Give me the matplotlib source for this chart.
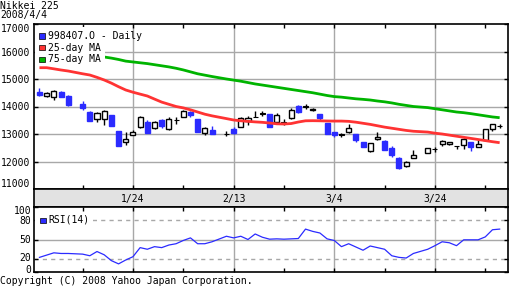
import numpy as np
import matplotlib
matplotlib.use("Agg")
import matplotlib.pyplot as plt
from matplotlib.patches import Rectangle
import matplotlib.transforms as mtransforms

# ---------------- data ----------------
dates = ["2008-01-07","2008-01-08","2008-01-09","2008-01-10","2008-01-11",
         "2008-01-15","2008-01-16","2008-01-17","2008-01-18",
         "2008-01-21","2008-01-22","2008-01-23","2008-01-24","2008-01-25",
         "2008-01-28","2008-01-29","2008-01-30","2008-01-31","2008-02-01",
         "2008-02-04","2008-02-05","2008-02-06","2008-02-07","2008-02-08",
         "2008-02-12","2008-02-13","2008-02-14","2008-02-15",
         "2008-02-18","2008-02-19","2008-02-20","2008-02-21","2008-02-22",
         "2008-02-25","2008-02-26","2008-02-27","2008-02-28","2008-02-29",
         "2008-03-03","2008-03-04","2008-03-05","2008-03-06","2008-03-07",
         "2008-03-10","2008-03-11","2008-03-12","2008-03-13","2008-03-14",
         "2008-03-17","2008-03-18","2008-03-19","2008-03-21",
         "2008-03-24","2008-03-25","2008-03-26","2008-03-27","2008-03-28",
         "2008-03-31","2008-04-01","2008-04-02","2008-04-03","2008-04-04"]

open_ = [14536,14369,14345,14536,14393,
         14107,13786,13560,13548,
         13679,13107,12726,12953,13238,
         13452,13226,13500,13190,13500,
         13631,13798,13536,13048,13143,
         13010,13167,13238,13476,
         13619,13738,13714,13429,13417,
         13595,14012,14000,13870,13726,
         13393,13084,12977,13060,13012,
         12727,12381,12810,12762,12500,
         12132,11822,12132,12310,
         12453,12631,12631,12572,12596,
         12715,12512,12786,13167,13286]
high = [14667,14524,14595,14571,14429,
        14214,13821,13786,13881,
        13690,13107,13060,13143,13643,
        13500,13488,13536,13607,13607,
        13881,13833,13536,13238,13286,
        13119,13238,13619,13655,
        13833,13833,13714,13762,13536,
        13952,14048,14083,13940,13726,
        13393,13084,13048,13369,13012,
        12727,12679,13072,12786,12560,
        12167,12025,12405,12489,
        12536,12786,12703,12572,12846,
        12715,12786,13167,13381,13369]
low = [14381,14333,14238,14333,14036,
       13869,13464,13440,13333,
       13298,12548,12583,12953,13202,
       13048,13190,13226,13131,13381,
       13631,13619,13083,12953,12988,
       12917,13000,13238,13333,
       13619,13643,13262,13357,13345,
       13560,13762,13905,13845,13500,
       12988,12881,12905,13036,12727,
       12524,12334,12786,12405,12179,
       11715,11787,12132,12310,
       12357,12560,12584,12441,12465,
       12393,12512,12786,13107,13202]
close = [14429,14488,14571,14345,14071,
         13940,13476,13750,13845,
         13298,12548,12821,13083,13607,
         13048,13452,13298,13560,13500,
         13845,13679,13083,13202,12988,
         13010,13024,13595,13595,
         13619,13738,13262,13679,13417,
         13881,13798,14000,13895,13583,
         12988,12977,12977,13226,12774,
         12524,12655,12881,12429,12239,
         11775,11965,12251,12489,
         12453,12750,12703,12572,12810,
         12512,12643,13167,13381,13286]

ma25 = [15411,15411,15370,15327,15290,
        15190,15145,15060,14964,
        14850,14720,14600,14520,14450,
        14382,14270,14160,14080,14000,
        13950,13880,13800,13720,13660,
        13560,13509,13480,13460,
        13440,13424,13400,13370,13364,
        13380,13436,13480,13484,13480,
        13473,13470,13470,13460,13430,
        13390,13350,13300,13250,13210,
        13170,13130,13100,13070,
        13030,13000,12960,12920,12880,
        12840,12800,12760,12720,12684]
ma75 = [16000,15990,15970,15950,15930,
        15880,15860,15830,15800,
        15760,15710,15650,15620,15590,
        15560,15520,15480,15440,15390,
        15330,15260,15190,15140,15090,
        15000,14960,14920,14870,
        14820,14780,14740,14700,14660,
        14620,14580,14540,14500,14450,
        14400,14360,14340,14310,14280,
        14260,14236,14200,14170,14130,
        14080,14040,14000,13960,
        13920,13880,13840,13800,13775,
        13740,13700,13660,13620,13593]
rsi = [22.5,26,29.5,28.5,28.5,
       27.5,25,31.5,26.5,
       17.5,12.5,18.5,23.5,37.5,
       35,39,37.5,41.5,43.5,
       48.5,52.5,43.5,43.5,46.5,
       55,52.5,55,50,
       58.5,53.5,50.5,51,50.5,
       51,51.5,66,62.5,60,
       51,48.5,39,43.5,38.5,
       33.5,40,37.5,35,25,
       22.5,21.5,28.5,35,
       40.5,46.5,45,40.5,49.5,
       49.5,49.5,54,65,66]

major_labels = ["1/24", "2/13", "3/4", "3/24"]
major_dates = ["2008-01-24", "2008-02-13", "2008-03-04", "2008-03-24"]
minor_dates = ["2008-01-15", "2008-02-04", "2008-02-22", "2008-03-13", "2008-04-02"]
price_ticks = [11000, 12000, 13000, 14000, 15000, 16000, 17000]
rsi_ticks = [0, 20, 50, 80, 100]

# ---------------- style ----------------
FONT = "DejaVu Sans Mono"
FS = 7
BLUE = "#2b2bff"
RED = "#ff3333"
GREEN = "#00b400"
GRID = "#a8a8a8"
plt.rcParams["font.family"] = FONT

start = "2008-01-04"
def pos(ds):
    return np.busday_count(start, ds)

x = np.array([pos(d) for d in dates], dtype=float)
o = np.array(open_, float); h = np.array(high, float)
l = np.array(low, float); c = np.array(close, float)
xmaj = [pos(d) for d in major_dates]
xmin = [pos(d) for d in minor_dates]

W, H = 512, 288
fig = plt.figure(figsize=(W / 100, H / 100), dpi=100)
L = 34 / W
R = 507.7 / W
def fy(py):
    return 1 - py / H

ax = fig.add_axes([L, fy(189), R - L, fy(24) - fy(189)])
axb = fig.add_axes([L, fy(207), R - L, fy(189) - fy(207)])
axr = fig.add_axes([L, fy(272), R - L, fy(207) - fy(272)])

XL = (0.24, 66.12)
for a in (ax, axb, axr):
    a.set_xlim(*XL)
    for s in a.spines.values():
        s.set_linewidth(1.2)
        s.set_color("black")

# ---------- main price panel ----------
ax.set_ylim(11000, 17000)
for yv in price_ticks[1:-1]:
    ax.axhline(yv, color=GRID, lw=1, zorder=0)
for xv in xmaj:
    ax.axvline(xv, color=GRID, lw=1, zorder=0)

bw = 0.7
up = c > o
dn = c < o
eq = c == o
ax.vlines(x[up | eq], l[up | eq], h[up | eq], color="black", lw=1, zorder=2)
ax.vlines(x[dn], l[dn], h[dn], color=BLUE, lw=1, zorder=2)
ax.bar(x[up], c[up] - o[up], bottom=o[up], width=bw, facecolor="white",
       edgecolor="black", lw=1, zorder=3)
ax.bar(x[dn], o[dn] - c[dn], bottom=c[dn], width=bw, facecolor=BLUE,
       edgecolor=BLUE, lw=1, zorder=3)
ax.bar(x[eq], 15, bottom=o[eq] - 7, width=bw, facecolor="black",
       edgecolor="black", lw=0.8, zorder=3)

ax.plot(x, ma25, color=RED, lw=2, zorder=4, solid_capstyle="butt")
ax.plot(x, ma75, color=GREEN, lw=2, zorder=4, solid_capstyle="butt")

ax.set_yticks(price_ticks)
ax.set_yticklabels([str(t) for t in price_ticks])
for lab, t in zip(ax.get_yticklabels(), price_ticks):
    if t == 17000:
        lab.set_va("top")
    elif t == 11000:
        lab.set_va("bottom")
ax.set_xticks(xmaj)
ax.set_xticks(xmin, minor=True)
ax.tick_params(axis="both", which="both", direction="in", length=3, width=1,
               top=True, right=True, labelbottom=False, labelsize=FS, pad=3)

tr = ax.transAxes
def axfx(px):
    return (px - 34) / (507.7 - 34)
def axfy(py):
    return (189 - py) / (189 - 24)
ax.add_patch(Rectangle((axfx(35), axfy(65)), axfx(105) - axfx(35),
                       axfy(27) - axfy(65), transform=tr, facecolor="white",
                       edgecolor="none", zorder=6))
leg = [("998407.O - Daily", BLUE, 36), ("25-day MA", RED, 47.6), ("75-day MA", GREEN, 59.3)]
for txt, col, py in leg:
    ax.add_patch(Rectangle((axfx(39), axfy(py + 2.6)), axfx(44.5) - axfx(39),
                           axfy(py - 2.6) - axfy(py + 2.6), transform=tr,
                           facecolor=col, edgecolor="black", lw=0.5, zorder=7))
    ax.text(axfx(47.5), axfy(py), txt, transform=tr, fontsize=FS,
            va="center", ha="left", zorder=8)

# ---------- date band ----------
axb.set_facecolor("#e2e2e2")
axb.set_ylim(0, 1)
axb.set_xticks([])
axb.set_yticks([])
btr = mtransforms.blended_transform_factory(axb.transData, axb.transAxes)
for xv, lab in zip(xmaj, major_labels):
    axb.text(xv, 0.45, lab, transform=btr, ha="center", va="center", fontsize=FS)

# ---------- RSI panel ----------
axr.set_ylim(0, 100)
axr.axhline(50, color=GRID, lw=1, zorder=0)
for yv in (20, 80):
    axr.axhline(yv, color=GRID, lw=1, ls=(0, (3, 3)), zorder=0)
for xv in xmaj:
    axr.axvline(xv, color=GRID, lw=1, zorder=0)
axr.plot(x, rsi, color=BLUE, lw=0.9, zorder=3)
axr.set_yticks(rsi_ticks)
axr.set_xticks(xmaj)
axr.set_xticks(xmin, minor=True)
axr.tick_params(axis="both", which="both", direction="in", length=3, width=1,
                top=True, right=True, labelbottom=False, labelleft=False,
                labelsize=FS)
# RSI tick labels placed manually (end labels nudged inward as in the original)
rsi_label_px = {100: 211.0, 80: 220.5, 50: 240.0, 20: 258.0, 0: 270.0}
for t in rsi_ticks:
    fig.text(31 / W, fy(rsi_label_px[t]), str(t), fontsize=FS,
             ha="right", va="center")

rtr = axr.transAxes
def rfy(py):
    return (272 - py) / (272 - 207)
axr.add_patch(Rectangle((axfx(35), rfy(226)), axfx(93) - axfx(35),
                        rfy(214) - rfy(226), transform=rtr, facecolor="white",
                        edgecolor="none", zorder=6))
axr.add_patch(Rectangle((axfx(40), rfy(223)), axfx(45.5) - axfx(40),
                        rfy(217.5) - rfy(223), transform=rtr, facecolor=BLUE,
                        edgecolor="black", lw=0.5, zorder=7))
axr.text(axfx(48), rfy(220), "RSI(14)", transform=rtr, fontsize=FS,
         va="center", ha="left", zorder=8)

# ---------- header / footer ----------
fig.text(0.0, fy(1), "Nikkei 225", fontsize=FS, va="top", ha="left")
fig.text(0.0, fy(10), "2008/4/4", fontsize=FS, va="top", ha="left")
fig.text(0.0, fy(276), "Copyright (C) 2008 Yahoo Japan Corporation.",
         fontsize=FS, va="top", ha="left")

fig.savefig("out.png", dpi=100)
